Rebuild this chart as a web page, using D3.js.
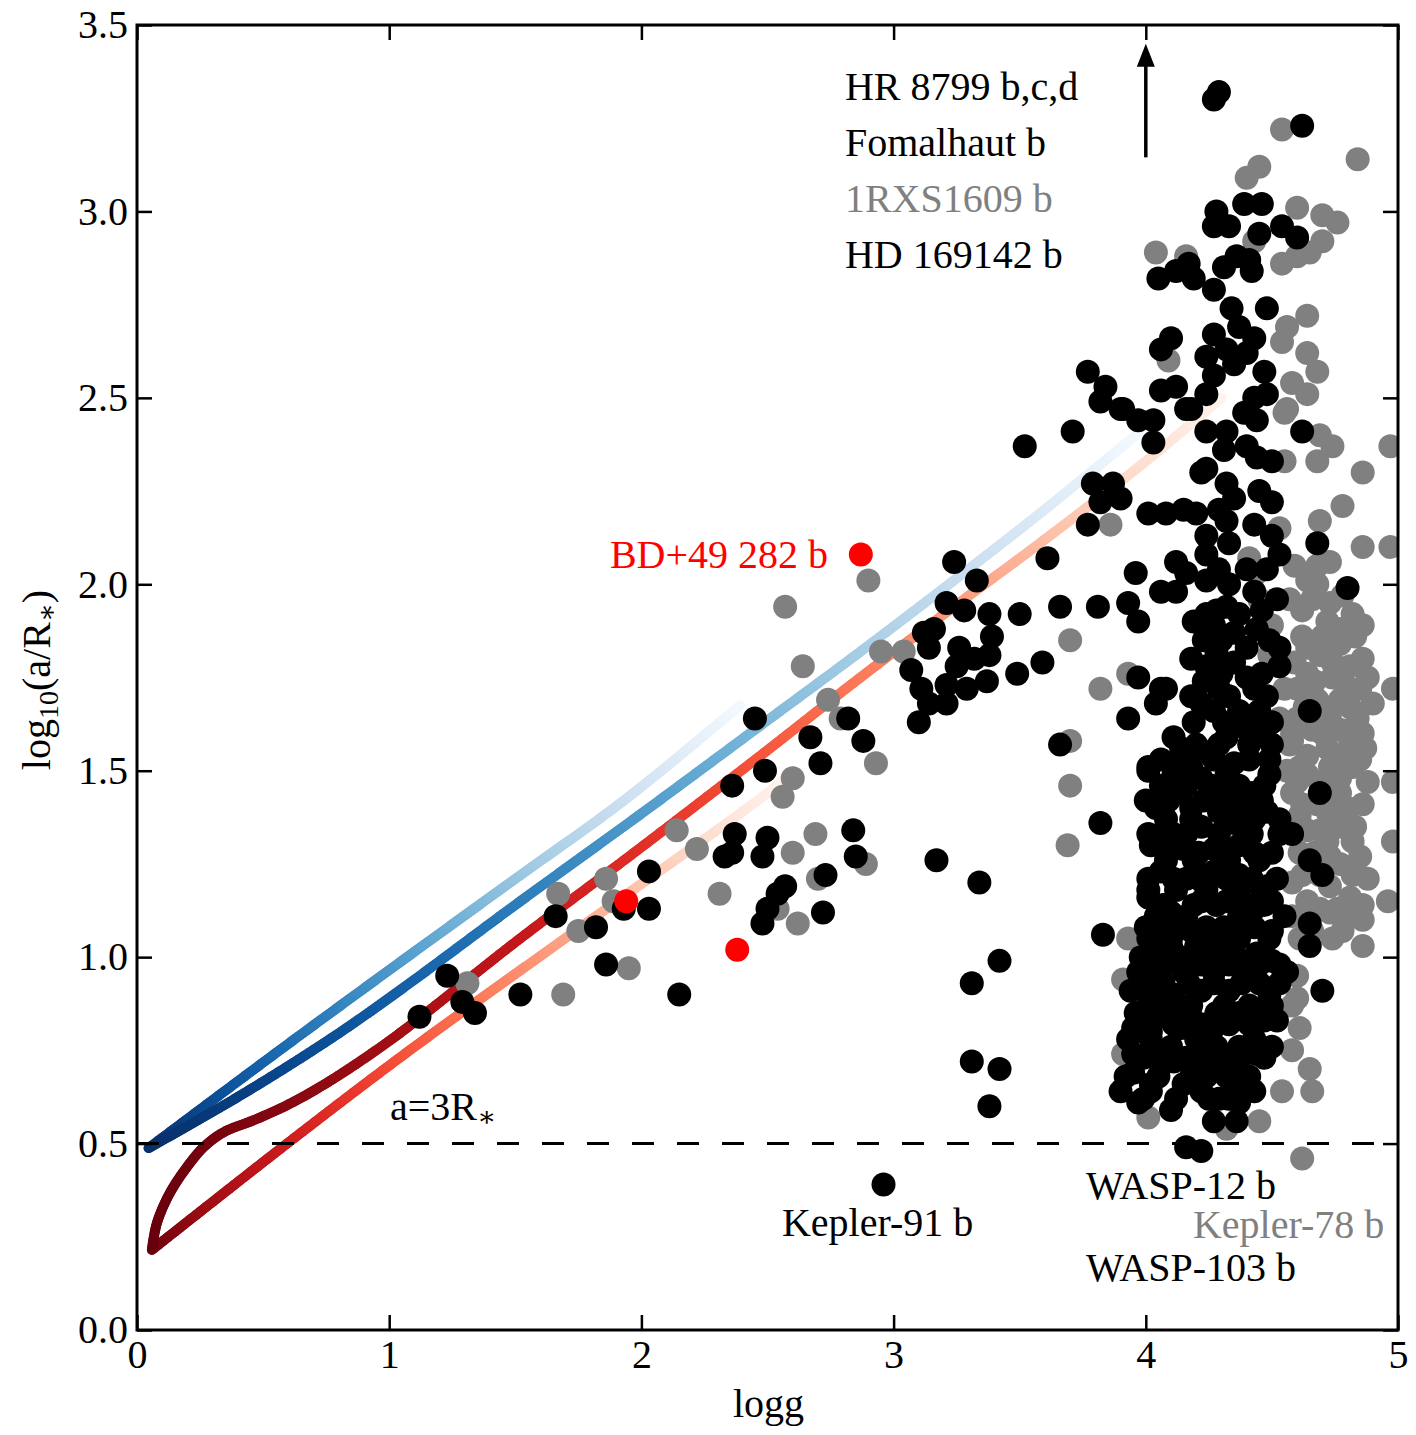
<!DOCTYPE html>
<html>
<head>
<meta charset="utf-8">
<script src="https://cdn.jsdelivr.net/npm/d3@7"></script>
<style>
  body { margin: 0; background: #fff; }
  text { font-family: "Liberation Serif", "DejaVu Serif", serif; }
</style>
</head>
<body>
<div id="container"></div>
<script>
/* CONSTANTS AND GLOBALS */
const width = 1416, height = 1435;
const plot = {left: 137, top: 25, right: 1398, bottom: 1330};
const fontSize = 40;

/* DATA (logg, log10(a/R*)) */
const xTicks = [0, 1, 2, 3, 4, 5];
const yTicks = [0, 0.5, 1, 1.5, 2, 2.5, 3, 3.5];

const redPlanets = [[2.87,2.08],[1.94,1.15],[2.38,1.02]];

const grayPlanets = [
  [1.31,0.93],[1.69,0.90],[1.67,1.17],[1.75,1.07],[1.86,1.21],[1.89,1.15],[1.95,0.97],[2.14,1.34],[2.22,1.29],[2.31,1.17],
  [2.57,1.94],[2.64,1.78],[2.74,1.69],[2.79,1.64],[2.60,1.48],[2.56,1.43],[2.60,1.28],[2.69,1.33],[2.70,1.21],[2.54,1.13],
  [2.62,1.09],[2.89,1.25],[2.90,2.01],[2.95,1.82],[3.04,1.82],[2.93,1.52],[3.70,1.85],[3.82,1.72],[3.93,1.76],[3.70,1.58],
  [3.70,1.46],[3.69,1.30],[3.86,2.16],[3.93,1.05],[3.91,0.94],[3.91,0.74],[4.01,0.57],[4.32,0.54],[4.45,0.56],[4.62,0.46],
  [4.54,0.64],[4.66,0.64],[4.65,0.70],[4.61,0.81],[4.58,0.87],[4.60,0.95],[4.60,0.89],[4.58,0.75],
  [4.54,3.22],[4.84,3.14],[4.45,3.12],[4.40,3.09],[4.60,3.01],[4.70,2.99],[4.76,2.97],[4.70,2.92],[4.65,2.89],[4.60,2.88],
  [4.54,2.86],[4.43,2.92],[4.04,2.89],[4.16,2.88],[4.64,2.72],[4.56,2.69],[4.54,2.65],[4.64,2.62],[4.68,2.57],[4.58,2.54],
  [4.64,2.51],[4.56,2.47],[4.09,2.60],[4.55,2.46],[4.69,2.40],[4.74,2.37],[4.68,2.33],[4.55,2.33],[4.97,2.37],[4.86,2.30],
  [4.78,2.21],[4.69,2.17],[4.53,2.15],[4.86,2.10],[4.97,2.10],[4.41,2.07],[4.44,2.03],[4.73,2.06],[4.64,2.01],[4.68,2.00],
  [4.62,1.93],[4.73,1.95],[4.82,1.92],[4.86,1.89],[4.72,1.90],[4.77,1.88],[4.64,1.83],[4.77,1.84],[4.69,1.81],[4.81,1.78],
  [4.64,1.76],[4.74,1.75],[4.85,1.72],[4.98,1.72],[4.60,1.72],[4.68,1.69],[4.77,1.69],[4.84,1.64],[4.60,1.64],[4.73,1.64],
  [4.66,1.61],[4.81,1.58],[4.58,1.58],[4.72,1.56],[4.80,1.52],[4.61,1.51],[4.85,1.53],[4.56,1.50],[4.64,1.49],[4.73,1.51],
  [4.82,1.51],[4.77,1.44],[4.58,1.44],[4.86,1.41],[4.98,1.47],[4.72,1.39],[4.61,1.38],[4.77,1.35],[4.82,1.31],[4.72,1.31],
  [4.98,1.31],[4.61,1.28],[4.77,1.25],[4.73,1.19],[4.58,1.20],[4.81,1.16],[4.96,1.15],[4.64,1.15],[4.73,1.12],[4.58,1.11],
  [4.81,1.11],[4.86,1.10],[4.74,1.05],[4.61,1.05],[4.86,1.03],
  [4.45,1.96],[4.50,1.89],[4.49,1.81],[4.55,1.72],[4.53,1.64],[4.57,1.57],
  [4.66,1.07],[4.78,1.07],[4.69,1.13],[4.76,1.13],[4.86,1.14],[4.62,1.22],[4.69,1.22],[4.82,1.22],[4.88,1.21],
  [4.67,1.28],[4.73,1.27],[4.85,1.27],[4.64,1.34],[4.69,1.34],[4.83,1.35],[4.62,1.41],[4.68,1.41],[4.74,1.42],[4.80,1.40],
  [4.60,1.47],[4.69,1.47],[4.77,1.48],[4.88,1.47],[4.64,1.54],[4.76,1.54],[4.87,1.56],[4.58,1.60],[4.70,1.60],[4.77,1.61],
  [4.86,1.60],[4.63,1.67],[4.72,1.67],[4.81,1.67],[4.90,1.68],[4.67,1.74],[4.79,1.73],[4.88,1.75],[4.59,1.79],[4.74,1.79],
  [4.86,1.80],[4.62,1.86],[4.70,1.86],[4.83,1.86],[4.57,1.96],[4.66,1.96],[4.78,1.97],[4.59,2.05],[4.68,2.05]
];

const blackPlanets = [
  // giants, low logg
  [1.12,0.84],[1.23,0.95],[1.29,0.88],[1.34,0.85],[1.52,0.90],[1.66,1.11],[1.82,1.08],[1.86,0.98],[1.93,1.13],[2.03,1.13],
  [2.03,1.23],[2.15,0.90],[2.36,1.46],[2.37,1.33],[2.33,1.27],[2.36,1.28],[2.45,1.64],[2.49,1.50],[2.50,1.32],[2.48,1.27],
  [2.57,1.19],[2.54,1.17],[2.50,1.13],[2.48,1.09],[2.72,1.12],[2.73,1.22],[2.67,1.59],[2.71,1.52],[2.82,1.64],[2.88,1.58],
  [2.84,1.34],[2.85,1.27],[2.96,0.39],[3.17,1.26],[3.34,1.20],[3.31,0.93],[3.42,0.99],[3.31,0.72],[3.42,0.70],[3.38,0.60],
  [3.83,1.06],[3.82,1.36],[3.66,1.57],
  // subgiant clump
  [3.24,2.06],[3.33,2.01],[3.21,1.95],[3.28,1.93],[3.38,1.92],[3.50,1.92],[3.12,1.87],[3.16,1.88],[3.14,1.83],[3.26,1.83],
  [3.39,1.86],[3.38,1.81],[3.32,1.80],[3.07,1.77],[3.25,1.78],[3.11,1.72],[3.21,1.73],[3.29,1.72],[3.37,1.74],[3.14,1.68],
  [3.21,1.68],[3.10,1.63],[3.49,1.76],[3.59,1.79],[3.61,2.07],[3.66,1.94],[3.81,1.94],[3.77,2.16],[3.52,2.37],[3.71,2.41],
  // wide orbits, dwarfs
  [3.77,2.57],[3.84,2.53],[3.82,2.49],[3.91,2.47],[3.97,2.44],[4.03,2.44],[4.03,2.38],[4.06,2.52],[4.12,2.53],[4.18,2.47],
  [4.24,2.51],[4.06,2.63],[4.10,2.66],[4.24,2.61],[4.24,2.41],[3.79,2.27],[3.87,2.27],[3.90,2.23],[3.82,2.22],[4.01,2.19],
  [4.08,2.19],[4.15,2.20],[4.20,2.19],[3.96,2.03],[4.12,2.06],[4.24,2.08],[4.16,2.03],[3.93,1.95],[3.97,1.90],[4.18,1.80],
  [3.97,1.75],[4.06,1.72],
  [4.27,3.30],[4.29,3.32],[4.62,3.23],[4.28,3.00],[4.39,3.02],[4.46,3.02],[4.27,2.96],[4.33,2.96],[4.45,2.94],[4.54,2.96],
  [4.60,2.93],[4.05,2.82],[4.12,2.84],[4.17,2.86],[4.19,2.82],[4.31,2.85],[4.36,2.88],[4.41,2.87],[4.42,2.84],[4.27,2.79],
  [4.34,2.74],[4.48,2.74],[4.27,2.67],[4.37,2.69],[4.43,2.66],[4.32,2.63],[4.40,2.62],[4.27,2.56],[4.35,2.59],[4.47,2.57],
  [4.43,2.50],[4.48,2.51],
  [3.90,2.47],[4.16,2.47],[4.32,2.41],[4.39,2.46],[4.44,2.44],[4.31,2.36],[4.40,2.37],[4.44,2.34],[4.50,2.33],[4.62,2.41],
  [4.22,2.30],[4.24,2.31],[4.32,2.27],[4.35,2.23],[4.29,2.20],[4.32,2.17],[4.24,2.13],[4.33,2.11],[4.45,2.25],[4.50,2.22],
  [4.43,2.16],[4.50,2.13],[4.53,2.08],[4.68,2.11],[4.80,1.99],
  [4.06,1.98],[4.12,1.98],[4.24,2.01],[4.33,2.00],[4.43,1.98],[4.52,1.96],[4.19,1.90],[4.24,1.92],[4.32,1.94],[4.37,1.92],
  [4.27,1.89],[4.35,1.87],[4.44,1.88],[4.40,1.83],[4.53,1.83],[4.28,1.82],[4.35,1.79],[4.53,1.78],[4.24,1.78],[4.23,1.74],
  [4.29,1.72],[4.40,1.75],[4.43,1.72],[4.08,1.72],[4.04,1.68],[4.22,1.68],[4.27,1.66],[4.37,1.66],[4.45,1.66],[4.37,1.62],
  [4.45,1.61],[3.93,1.64],[4.11,1.59],[4.32,1.59],[4.14,1.56],[4.24,1.55],[4.01,1.51],[4.18,1.51],[4.35,1.52],[4.49,1.53],
  [4.65,1.66],
  [4.20,1.57],[4.29,1.57],[4.41,1.57],[4.50,1.57],[4.19,1.63],[4.31,1.63],[4.41,1.63],[4.50,1.63],[4.18,1.70],[4.33,1.70],
  [4.48,1.70],[4.30,1.76],[4.46,1.76],[4.23,1.85],[4.30,1.85],[4.49,1.85],[4.28,1.93],[4.46,1.93],[4.29,2.04],[4.40,2.04],
  [4.48,2.04],
  // hot Jupiters
  [4.69,1.44],[4.58,1.33],[4.65,1.26],[4.70,1.22],[4.65,1.09],[4.65,1.03],[4.70,0.91],
  [4.16,0.49],[4.22,0.48],[3.90,0.64],[3.97,0.61],[4.10,0.59],[4.27,0.56],[4.36,0.56],[4.37,0.61],[4.29,0.62],[4.15,0.66],
  [4.02,0.66],[3.95,0.69],[4.37,0.67],[4.11,0.72],[3.95,0.74],[3.93,0.78],[3.95,0.81],[4.02,0.80],[4.14,0.81],[4.26,0.80],
  [4.28,0.76],[4.37,0.72],[4.44,0.74],[4.50,0.76],[4.52,0.83],[4.47,0.83],[3.97,0.83],[4.08,0.84],[4.19,0.83],
  [3.94,0.91],[4.02,0.91],[4.11,0.90],[4.22,0.91],[4.33,0.91],[4.49,0.90],
  [3.97,0.96],[4.04,0.96],[4.15,0.96],[4.27,0.96],[4.40,0.96],[4.56,0.96],
  [4.02,1.03],[4.10,1.03],[4.20,1.03],[4.32,1.03],[4.44,1.01],[4.50,0.99],
  [4.18,1.07],[4.31,1.08],[4.43,1.08],[4.50,1.07],
  [4.01,1.16],[4.10,1.12],[4.22,1.15],[4.32,1.15],[4.43,1.13],[4.50,1.15],
  [4.06,1.23],[4.16,1.21],[4.27,1.23],[4.37,1.22],[4.48,1.19],
  [4.02,1.30],[4.15,1.29],[4.27,1.29],[4.37,1.30],[4.50,1.28],
  [4.01,1.33],[4.11,1.33],[4.22,1.35],[4.35,1.36],[4.48,1.39],
  [4.04,1.40],[4.18,1.40],[4.29,1.39],[4.40,1.40],
  [4.01,1.50],[4.11,1.49],[4.22,1.48],[4.32,1.49],[4.49,1.49],
  [4.06,1.46],[4.16,1.46],[4.26,1.46],[4.37,1.46],[4.47,1.46],
  [4.08,1.37],[4.18,1.37],[4.43,1.37],[4.53,1.37],
  [4.08,1.26],[4.19,1.26],[4.33,1.26],[4.45,1.26],
  [4.01,1.18],[4.12,1.18],[4.24,1.18],[4.37,1.18],[4.46,1.18],
  [4.04,1.11],[4.16,1.11],[4.37,1.11],[4.55,1.11],
  [4.01,1.05],[4.10,1.05],[4.26,1.05],[4.37,1.05],[4.49,1.05],
  [4.08,0.98],[4.22,0.98],[4.33,0.98],[4.45,0.98],[4.53,0.98],
  [4.01,0.87],[4.08,0.87],[4.18,0.87],[4.31,0.87],[4.41,0.87],[4.50,0.87],
  [4.02,0.78],[4.20,0.78],[4.43,0.78],
  [4.06,0.71],[4.20,0.71],[4.29,0.71],
  [4.02,0.64],[4.22,0.64],[4.43,0.64],
  [3.99,0.62],[4.12,0.62],[4.25,0.62],[4.33,0.62],
  [3.92,0.68],[4.05,0.68],[4.18,0.68],[4.24,0.68],[4.32,0.68],[4.41,0.68],
  [3.99,0.73],[4.06,0.73],[4.16,0.73],[4.24,0.73],[4.33,0.73],[4.47,0.73],
  [4.10,0.76],[4.22,0.76],[4.37,0.76],
  [4.00,0.82],[4.11,0.82],[4.24,0.82],[4.33,0.82],[4.41,0.82],
  [3.96,0.85],[4.05,0.85],[4.15,0.85],[4.28,0.85],[4.37,0.85],[4.46,0.85],
  [3.98,0.93],[4.07,0.93],[4.17,0.93],[4.27,0.93],[4.38,0.93],[4.45,0.93],[4.53,0.93],
  [3.98,1.00],[4.07,1.00],[4.14,1.00],[4.25,1.00],[4.36,1.00],[4.47,1.00],
  [4.00,1.08],[4.06,1.08],[4.13,1.08],[4.24,1.08],[4.37,1.08],
  [4.07,1.14],[4.19,1.14],[4.28,1.14],[4.40,1.14],[4.47,1.14],
  [4.01,1.21],[4.11,1.21],[4.21,1.21],[4.32,1.21],[4.42,1.21],[4.52,1.21],
  [4.09,1.28],[4.21,1.28],[4.32,1.28],[4.43,1.28],
  [4.06,1.33],[4.16,1.33],[4.29,1.33],[4.42,1.33],[4.53,1.33],
  [4.00,1.42],[4.09,1.42],[4.23,1.42],[4.35,1.42],[4.46,1.42],
  [4.14,1.44],[4.30,1.44],[4.42,1.44],
  [4.06,1.53],[4.14,1.53],[4.27,1.53],[4.41,1.53]
];

// evolutionary tracks (logg, log10(a/R*))
const trackBlueUpper = [[0.046,0.488],[0.567,0.751],[1.04,0.985],[1.5,1.21],[1.94,1.425],[2.39,1.675]];
const trackBlueLower = [[0.046,0.488],[0.4,0.625],[0.765,0.78],[1.04,0.91],[1.5,1.14],[2.0,1.385],[2.5,1.635],[2.83,1.80],[3.2,1.99],[3.58,2.19],[3.97,2.405]];
const trackRedCurve = [[0.059,0.215],[0.079,0.287],[0.13,0.367],[0.198,0.437],[0.265,0.491],[0.345,0.531],[0.464,0.563],[0.595,0.603],[0.726,0.652],[0.85,0.705],[1.04,0.795],[1.5,1.04],[2.0,1.295],[2.5,1.555],[2.83,1.73],[3.2,1.92],[3.58,2.11],[4.0,2.33],[4.3,2.50]];
const trackRedStraight = [[0.059,0.215],[0.595,0.50],[1.083,0.751],[1.8,1.10],[2.48,1.43],[2.56,1.475]];

const limitY = 0.5; // a = 3 R*
const arrowFrom = [4.0, 3.145], arrowTo = [4.0, 3.45];

const labels = [
  {text: "HR 8799 b,c,d", x: 2.807, y: 3.298, group: "black", anchor: "start"},
  {text: "Fomalhaut b", x: 2.807, y: 3.148, group: "black", anchor: "start"},
  {text: "1RXS1609 b", x: 2.807, y: 2.998, group: "gray", anchor: "start"},
  {text: "HD 169142 b", x: 2.807, y: 2.848, group: "black", anchor: "start"},
  {text: "BD+49 282 b", x: 2.74, y: 2.043, group: "red", anchor: "end"},
  {text: "Kepler-91 b", x: 2.557, y: 0.252, group: "black", anchor: "start"},
  {text: "WASP-12 b", x: 3.763, y: 0.351, group: "black", anchor: "start"},
  {text: "Kepler-78 b", x: 4.187, y: 0.247, group: "gray", anchor: "start"},
  {text: "WASP-103 b", x: 3.763, y: 0.131, group: "black", anchor: "start"}
];
const limitLabel = {x: 1.003, y: 0.563};

const groupColor = {black: "#000000", gray: "#808080", red: "#ff0000"};

/* SCALES */
const xScale = d3.scaleLinear().domain([0, 5]).range([plot.left, plot.right]);
const yScale = d3.scaleLinear().domain([0, 3.5]).range([plot.bottom, plot.top]);

const svg = d3.select("#container").append("svg")
  .attr("width", width)
  .attr("height", height);

svg.append("defs").append("clipPath").attr("id", "clip")
  .append("rect")
  .attr("x", plot.left).attr("y", plot.top)
  .attr("width", plot.right - plot.left).attr("height", plot.bottom - plot.top);

const inner = svg.append("g").attr("clip-path", "url(#clip)");

/* TRACKS - colour fades along the track */
const lineGen = d3.line().x(d => xScale(d[0])).y(d => yScale(d[1])).curve(d3.curveCatmullRom.alpha(0.5));

function drawTrack(points, interp, gamma) {
  const tmp = inner.append("path").attr("d", lineGen(points)).attr("fill", "none").attr("stroke", "none");
  const node = tmp.node();
  const len = node.getTotalLength();
  const n = Math.max(2, Math.round(len / 3));
  const pts = d3.range(n + 1).map(i => node.getPointAtLength(len * i / n));
  tmp.remove();
  const g = inner.append("g");
  for (let i = 0; i < n; i++) {
    const f = (i + 0.5) / n;
    const t = 1 - 0.98 * Math.pow(f, gamma);
    g.append("line")
      .attr("x1", pts[i].x).attr("y1", pts[i].y)
      .attr("x2", pts[i + 1].x).attr("y2", pts[i + 1].y)
      .attr("stroke", interp(t))
      .attr("stroke-width", 10)
      .attr("stroke-linecap", "round");
  }
}

drawTrack(trackBlueUpper, d3.interpolateBlues, 1.0);
drawTrack(trackBlueLower, d3.interpolateBlues, 1.2);
drawTrack(trackRedStraight, d3.interpolateReds, 0.9);
drawTrack(trackRedCurve, d3.interpolateReds, 1.45);

// a = 3 R* limit
inner.append("line")
  .attr("x1", xScale(0)).attr("x2", xScale(5))
  .attr("y1", yScale(limitY)).attr("y2", yScale(limitY))
  .attr("stroke", "#000").attr("stroke-width", 3)
  .attr("stroke-dasharray", "22,23");

/* POINTS */
function drawPoints(data, color) {
  inner.append("g").selectAll("circle")
    .data(data)
    .join("circle")
    .attr("cx", d => xScale(d[0]))
    .attr("cy", d => yScale(d[1]))
    .attr("r", 12)
    .attr("fill", color);
}
drawPoints(grayPlanets, groupColor.gray);
drawPoints(blackPlanets, groupColor.black);
drawPoints(redPlanets, groupColor.red);

/* ARROW to wide-orbit planets */
svg.append("line")
  .attr("x1", xScale(arrowFrom[0])).attr("y1", yScale(arrowFrom[1]))
  .attr("x2", xScale(arrowTo[0])).attr("y2", yScale(arrowTo[1]) + 20)
  .attr("stroke", "#000").attr("stroke-width", 3.5);
const ax = xScale(arrowTo[0]), ay = yScale(arrowTo[1]);
svg.append("path")
  .attr("d", `M${ax},${ay} L${ax - 9},${ay + 23} L${ax + 9},${ay + 23} Z`)
  .attr("fill", "#000");

/* LABELS */
svg.append("g").selectAll("text")
  .data(labels)
  .join("text")
  .attr("x", d => xScale(d.x))
  .attr("y", d => yScale(d.y))
  .attr("text-anchor", d => d.anchor)
  .attr("font-size", fontSize)
  .attr("fill", d => groupColor[d.group])
  .text(d => d.text);

const lim = svg.append("text")
  .attr("x", xScale(limitLabel.x)).attr("y", yScale(limitLabel.y))
  .attr("font-size", fontSize);
lim.append("tspan").text("a=3R");
lim.append("tspan").attr("font-size", 28).attr("dy", 6).text("\u2217");

/* AXES */
const xAxisB = d3.axisBottom(xScale).tickValues(xTicks).tickSize(-15).tickPadding(10).tickFormat(d3.format("d"));
const xAxisT = d3.axisTop(xScale).tickValues(xTicks).tickSize(-15).tickFormat("");
const yAxisL = d3.axisLeft(yScale).tickValues(yTicks).tickSize(-15).tickPadding(9).tickFormat(d3.format(".1f"));
const yAxisR = d3.axisRight(yScale).tickValues(yTicks).tickSize(-15).tickFormat("");

function styleAxis(g) {
  g.select(".domain").remove();
  g.selectAll(".tick line").attr("stroke", "#000").attr("stroke-width", 2.5);
  g.selectAll(".tick text").attr("font-size", fontSize).attr("fill", "#000")
    .attr("font-family", '"Liberation Serif", "DejaVu Serif", serif');
}
svg.append("g").attr("transform", `translate(0,${plot.bottom})`).call(xAxisB).call(styleAxis);
svg.append("g").attr("transform", `translate(0,${plot.top})`).call(xAxisT).call(styleAxis);
svg.append("g").attr("transform", `translate(${plot.left},0)`).call(yAxisL).call(styleAxis);
svg.append("g").attr("transform", `translate(${plot.right},0)`).call(yAxisR).call(styleAxis);

// frame
svg.append("rect")
  .attr("x", plot.left).attr("y", plot.top)
  .attr("width", plot.right - plot.left).attr("height", plot.bottom - plot.top)
  .attr("fill", "none").attr("stroke", "#000").attr("stroke-width", 3);

// axis titles
svg.append("text")
  .attr("x", (plot.left + plot.right) / 2 + 1).attr("y", 1417)
  .attr("text-anchor", "middle").attr("font-size", fontSize)
  .text("logg");

const yl = svg.append("text")
  .attr("transform", "translate(50,680) rotate(-90)")
  .attr("text-anchor", "middle").attr("font-size", fontSize);
yl.append("tspan").text("log");
yl.append("tspan").attr("font-size", 28).attr("dy", 8).text("10");
yl.append("tspan").attr("dy", -8).text("(a/R");
yl.append("tspan").attr("font-size", 28).attr("dy", 6).text("\u2217");
yl.append("tspan").attr("dy", -6).text(")");
</script>
</body>
</html>
